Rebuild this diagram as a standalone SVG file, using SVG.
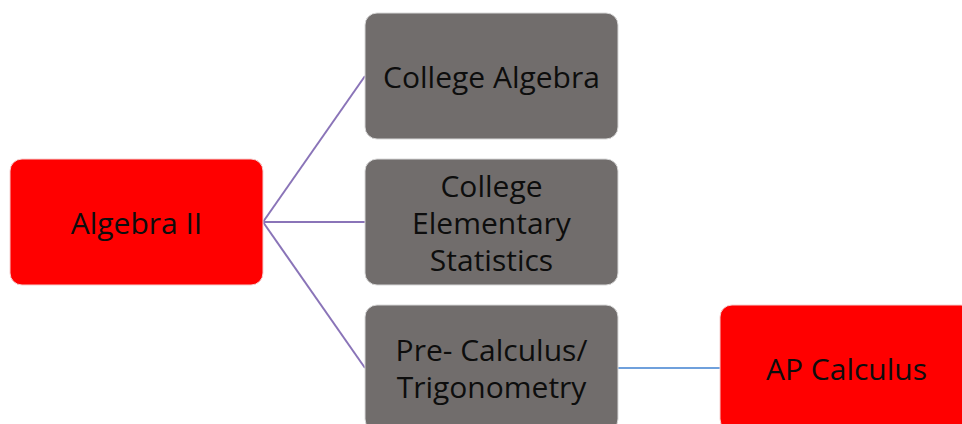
<svg xmlns="http://www.w3.org/2000/svg" width="962" height="424" viewBox="0 0 962 424">
<style>
.red{fill:#ff0000;stroke:#f4d0d0;stroke-width:1}
.gray{fill:#716d6c;stroke:#d8d8d8;stroke-width:1}
text{font-family:"Open Sans","Liberation Sans",sans-serif;font-size:30px;fill:#0d0d0d;text-anchor:middle;dominant-baseline:central}
.c1{stroke:#8a74b8;stroke-width:2;fill:none}
.c2{stroke:#6fa0dc;stroke-width:2;fill:none}
</style>
<rect width="962" height="424" fill="#fff"/>
<g id="connectors">
<line class="c1" x1="263" y1="222" x2="365" y2="76"/>
<line class="c1" x1="263" y1="222" x2="365" y2="222"/>
<line class="c1" x1="263" y1="222" x2="365" y2="368"/>
<line class="c2" x1="618" y1="368" x2="720" y2="368"/>
</g>
<g id="algebra2">
<rect class="red" x="10" y="159" width="253" height="126" rx="12"/>
<text x="136.5" y="222">Algebra II</text>
</g>
<g id="college-algebra">
<rect class="gray" x="365" y="13" width="253" height="126" rx="12"/>
<text x="491.5" y="76">College Algebra</text>
</g>
<g id="college-stats">
<rect class="gray" x="365" y="159" width="253" height="126" rx="12"/>
<text x="491.5" y="185">College</text>
<text x="491.5" y="222">Elementary</text>
<text x="491.5" y="259">Statistics</text>
</g>
<g id="precalc">
<rect class="gray" x="365" y="305" width="253" height="126" rx="12"/>
<text x="491.5" y="349">Pre- Calculus/</text>
<text x="491.5" y="386">Trigonometry</text>
</g>
<g id="ap-calc">
<rect class="red" x="720" y="305" width="253" height="126" rx="12"/>
<text x="846.5" y="368">AP Calculus</text>
</g>
</svg>
